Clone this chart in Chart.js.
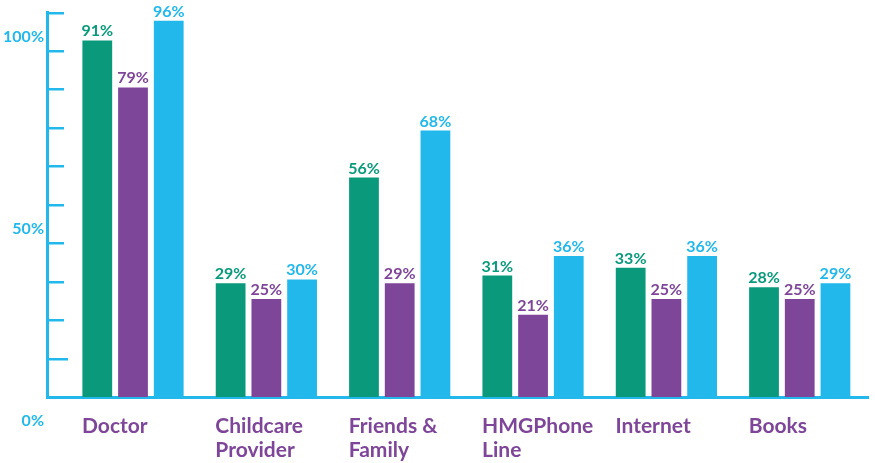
<!DOCTYPE html>
<html>
<head>
<meta charset="utf-8">
<script src="https://cdn.jsdelivr.net/npm/chart.js@4"></script>
<style>
  html, body { margin: 0; padding: 0; background: #ffffff; }
  #wrap { width: 875px; height: 463px; }
</style>
</head>
<body>
<div id="wrap"><canvas id="c" width="875" height="463"></canvas></div>
<script>
// ---- data ----
const categories = [["Doctor"], ["Childcare", "Provider"], ["Friends &", "Family"], ["HMGPhone", "Line"], ["Internet"], ["Books"]];
const series1 = [91, 29, 56, 31, 33, 28];
const series2 = [79, 25, 29, 21, 25, 25];
const series3 = [96, 30, 68, 36, 36, 29];
const seriesNames = ["Series 1", "Series 2", "Series 3"];
const yTickLabels = ["0%", "", "", "", "", "50%", "", "", "", "", "100%"];
const Y_AXIS_MAX = 98.09;

const GREEN = '#0A9A7B', PURPLE = '#7E4698', CYAN = '#22B8EB';
const FONT = 'Lato, "Open Sans", sans-serif';

const toPoints = arr => arr.map((v, i) => ({ x: i, y: v }));

const tickMarks = {
  id: 'tickMarks',
  afterDraw(chart) {
    const y = chart.scales.y, ctx = chart.ctx, left = chart.chartArea.left;
    ctx.save();
    ctx.strokeStyle = CYAN;
    ctx.lineWidth = 2.5;
    y.ticks.forEach((t, i) => {
      if (i === 0) return;
      const py = Math.round(y.getPixelForValue(t.value)) + 0.25;
      ctx.beginPath();
      ctx.moveTo(left, py);
      ctx.lineTo(left + (i === 1 ? 21 : 17), py);
      ctx.stroke();
    });
    ctx.restore();
  }
};

const valueLabels = {
  id: 'valueLabels',
  afterDatasetsDraw(chart) {
    const ctx = chart.ctx;
    ctx.save();
    ctx.font = '700 16px ' + FONT;
    ctx.textAlign = 'center';
    ctx.textBaseline = 'alphabetic';
    chart.data.datasets.forEach((ds, di) => {
      const meta = chart.getDatasetMeta(di);
      ctx.fillStyle = ds.backgroundColor;
      meta.data.forEach((el, i) => {
        ctx.fillText(ds.data[i].y + '%', el.x, el.y - 4);
      });
    });
    ctx.restore();
  }
};

new Chart(document.getElementById('c'), {
  type: 'bar',
  data: {
    datasets: [
      { label: seriesNames[0], data: toPoints(series1), backgroundColor: GREEN },
      { label: seriesNames[1], data: toPoints(series2), backgroundColor: PURPLE },
      { label: seriesNames[2], data: toPoints(series3), backgroundColor: CYAN }
    ]
  },
  options: {
    responsive: false,
    devicePixelRatio: 1,
    animation: false,
    layout: { padding: { top: 12, left: 0, right: 0, bottom: 0 } },
    categoryPercentage: 0.8037,
    barPercentage: 0.8333,
    plugins: { legend: { display: false }, tooltip: { enabled: false } },
    scales: {
      x: {
        type: 'linear',
        offset: false,
        bounds: 'data',
        min: -0.645,
        max: 5.517,
        afterBuildTicks: s => { s.ticks = categories.map((_, i) => ({ value: i })); },
        afterFit: s => { s.height = 66; },
        grid: { display: false, drawTicks: false },
        border: { display: true, color: CYAN, width: 3 },
        ticks: {
          autoSkip: false,
          maxRotation: 0,
          minRotation: 0,
          align: 'start',
          labelOffset: -51,
          padding: 17,
          color: PURPLE,
          font: { family: FONT, size: 21, weight: 'bold', lineHeight: 24 / 21 },
          callback: v => categories[Math.round(v)]
        }
      },
      y: {
        min: 0,
        max: Y_AXIS_MAX,
        bounds: 'data',
        afterBuildTicks: s => { s.ticks = yTickLabels.map((_, i) => ({ value: i * Y_AXIS_MAX / 10 })); },
        afterFit: s => { s.width = 47; },
        grid: { display: false, drawTicks: false },
        border: { display: true, color: CYAN, width: 3 },
        ticks: {
          autoSkip: false,
          padding: 3,
          labelOffset: 24,
          color: CYAN,
          font: { family: FONT, size: 16, weight: 'bold' },
          callback: (v, i) => yTickLabels[i]
        }
      }
    }
  },
  plugins: [tickMarks, valueLabels]
});
</script>
</body>
</html>
